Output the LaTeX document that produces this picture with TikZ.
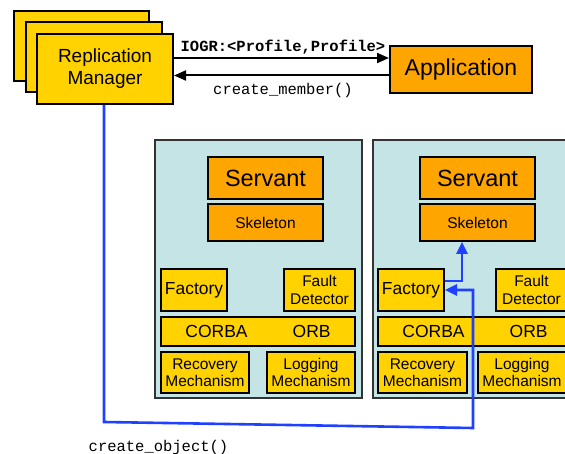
\documentclass[tikz,border=0pt]{standalone}
\usepackage{fontspec}
\setmainfont{Liberation Sans}
\setmonofont{Liberation Mono}
\usetikzlibrary{arrows.meta}
\definecolor{gold}{HTML}{FFD200}
\definecolor{orng}{HTML}{FFA500}
\definecolor{panelc}{HTML}{C4E4E6}
\definecolor{bluel}{HTML}{2040FF}
\tikzset{
  bx/.style={draw=black, line width=2pt, inner sep=0pt, align=center},
  ybox/.style={bx, fill=gold},
  obox/.style={bx, fill=orng},
  panel/.style={draw=black!80, line width=2pt, fill=panelc, inner sep=0pt},
  blk/.style={line width=2pt, -{Triangle[length=12pt,width=10pt]}},
  blu/.style={draw=bluel, line width=2.6pt, -{Triangle[length=12pt,width=11pt]}},
  mono/.style={font=\ttfamily\fontsize{15.5}{16}\selectfont, inner sep=0pt},
}
\begin{document}
\begin{tikzpicture}[x=1pt,y=-1pt]
\useasboundingbox (0,0) rectangle (565,454);
\clip (0,0) rectangle (565,454);
% Replication Manager stack
\node[ybox, minimum width=135pt, minimum height=70pt] (rm3) at (81.5,46) {};
\node[ybox, minimum width=136pt, minimum height=70pt] (rm2) at (94,57) {};
\node[ybox, minimum width=136pt, minimum height=70pt, font=\fontsize{19}{22}\selectfont] (rm) at (105,69) {Replication\\Manager};
% Application
\node[obox, minimum width=142pt, minimum height=47pt, font=\fontsize{23}{26}\selectfont] (app) at (461,69.5) {Application};
\draw[blk] ([yshift=11pt]rm.east) -- ([yshift=11pt]rm.east -| app.west);
\draw[blk] ([yshift=-6pt]app.west) -- ([yshift=-6pt]app.west -| rm.east);
\node[mono, font=\ttfamily\bfseries\fontsize{15.5}{16}\selectfont] (iogr) at (283,47) {IOGR:<Profile,Profile>};
\node[mono] (cm) at (283,90) {create\_member()};
% Panels
\node[panel, minimum width=207pt, minimum height=258pt] (p1) at (258.5,269) {};
\node[panel, minimum width=207pt, minimum height=258pt] (p2) at (476.5,269) {};
% Left panel contents
\node[obox, minimum width=115pt, minimum height=42pt, font=\fontsize{23.5}{26}\selectfont] (s1) at (265.5,178) {Servant};
\node[obox, minimum width=115pt, minimum height=37pt, font=\fontsize{15.5}{18}\selectfont] (k1) at (265.5,222.5) {Skeleton};
\node[ybox, minimum width=66pt, minimum height=42pt, font=\fontsize{17.4}{20}\selectfont] (f1) at (194,290) {Factory};
\node[ybox, minimum width=71pt, minimum height=42pt, font=\fontsize{15.5}{18}\selectfont] (d1) at (319.5,290) {Fault\\Detector};
\node[ybox, minimum width=194pt, minimum height=29pt, font=\fontsize{17.5}{20}\selectfont] (o1) at (258,331.5) {CORBA\hspace{45pt}ORB};
\node[ybox, minimum width=88pt, minimum height=41pt, font=\fontsize{15.5}{17.5}\selectfont] (r1) at (205,372.5) {Recovery\\Mechanism};
\node[ybox, minimum width=88pt, minimum height=41pt, font=\fontsize{15.5}{17.5}\selectfont] (l1) at (311,372.5) {Logging\\Mechanism};
% Right panel contents
\node[obox, minimum width=115pt, minimum height=42pt, font=\fontsize{23.5}{26}\selectfont] (s2) at (477.5,178) {Servant};
\node[obox, minimum width=115pt, minimum height=37pt, font=\fontsize{15.5}{18}\selectfont] (k2) at (477.5,222.5) {Skeleton};
\node[ybox, minimum width=66pt, minimum height=42pt, font=\fontsize{17.4}{20}\selectfont] (f2) at (411,290) {Factory};
\node[ybox, minimum width=71pt, minimum height=42pt, font=\fontsize{15.5}{18}\selectfont] (d2) at (531.5,290) {Fault\\Detector};
\node[ybox, minimum width=194pt, minimum height=29pt, font=\fontsize{17.5}{20}\selectfont] (o2) at (475,331.5) {CORBA\hspace{45pt}ORB};
\node[ybox, minimum width=89pt, minimum height=41pt, font=\fontsize{15.5}{17.5}\selectfont] (r2) at (422.5,372.5) {Recovery\\Mechanism};
\node[ybox, minimum width=88pt, minimum height=41pt, font=\fontsize{15.5}{17.5}\selectfont] (l2) at (522,372.5) {Logging\\Mechanism};
% Blue connectors
\coordinate (c1) at (104,422);
\coordinate (c2) at (473,428);
\draw[blu] (rm.south -| c1) -- (c1) -- (c2) |- (f2.east);
\draw[blu] ([yshift=9pt]f2.east) -| ([xshift=-15.5pt]k2.south);
\node[mono] (co) at (158.5,447) {create\_object()};
\end{tikzpicture}
\end{document}
